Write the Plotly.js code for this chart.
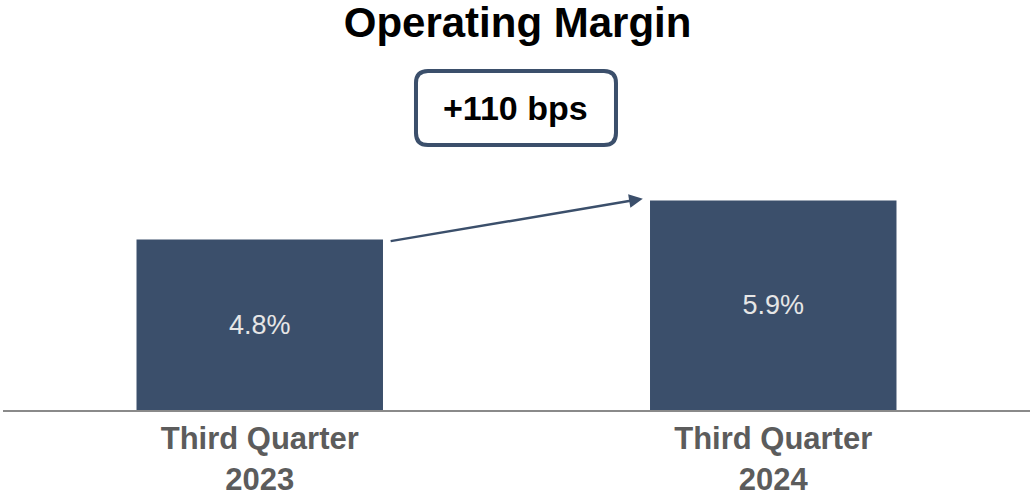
<!DOCTYPE html>
<html>
<head>
<meta charset="utf-8">
<script src="https://cdn.plot.ly/plotly-3.0.1.min.js"></script>
<style>html,body{margin:0;padding:0;background:#fff;}#chart{width:1030px;height:498px;}</style>
</head>
<body>
<div id="chart"></div>
<script>
const categories = ["Third Quarter<br>2023", "Third Quarter<br>2024"];
const margins = [4.8, 5.9];
const labels = ["4.8%", "5.9%"];
const changeLabel = "+110 bps";
const chartTitle = "Operating Margin";

const barColor = "#3b4f6b";
const font = "Arial, 'Liberation Sans', sans-serif";
const xs = [0, 1];

const trace = {
  type: "bar",
  x: xs,
  y: margins,
  width: 0.48,
  marker: {color: barColor, line: {width: 0}},
  text: labels,
  textposition: "inside",
  insidetextanchor: "middle",
  textfont: {family: font, size: 27, color: "#e6e6e6"},
  hoverinfo: "none"
};

const layout = {
  width: 1030, height: 498,
  margin: {l: 3, r: 0, t: 50, b: 88},
  paper_bgcolor: "#fff", plot_bgcolor: "#fff",
  showlegend: false,
  title: {text: chartTitle, x: 0.5025, xref: "container", xanchor: "center",
          y: 0.955, yref: "container", yanchor: "middle",
          font: {family: font, size: 42, color: "#000", weight: "bold"}},
  xaxis: {range: [-0.5, 1.5], tickvals: xs, ticktext: categories,
          showline: true, linecolor: "#8a8a8a", linewidth: 2,
          showgrid: false, zeroline: false, ticks: "", ticklabelstandoff: 0,
          tickfont: {family: font, size: 31, color: "#5c5c5c", weight: "bold"}},
  yaxis: {range: [0, 10.14], visible: false, showgrid: false, zeroline: false, fixedrange: true},
  shapes: [{
    type: "path", xref: "paper", yref: "paper",
    xsizemode: "pixel", ysizemode: "pixel",
    xanchor: 0.4995, yanchor: 0.8389,
    path: "M -88,-37 L 88,-37 Q 100,-37 100,-25 L 100,25 Q 100,37 88,37 L -88,37 Q -100,37 -100,25 L -100,-25 Q -100,-37 -88,-37 Z",
    line: {color: barColor, width: 4},
    fillcolor: "rgba(255,255,255,0)"
  }],
  annotations: [
    {xref: "paper", yref: "paper", x: 0.4995, y: 0.8389, xanchor: "center", yanchor: "middle",
     text: "<b>" + changeLabel + "</b>", showarrow: false,
     font: {family: font, size: 34, color: "#000"}},
    {xref: "x", yref: "y", axref: "x", ayref: "y",
     x: xs[1] - 0.254, y: margins[1] + 0.05,
     ax: xs[0] + 0.252, ay: margins[0] - 0.05,
     text: "", showarrow: true, arrowhead: 2, arrowsize: 1.1, arrowwidth: 2.5,
     arrowcolor: barColor, standoff: 0, startstandoff: 0}
  ]
};

Plotly.newPlot("chart", [trace], layout, {displayModeBar: false, staticPlot: true});
</script>
</body>
</html>
